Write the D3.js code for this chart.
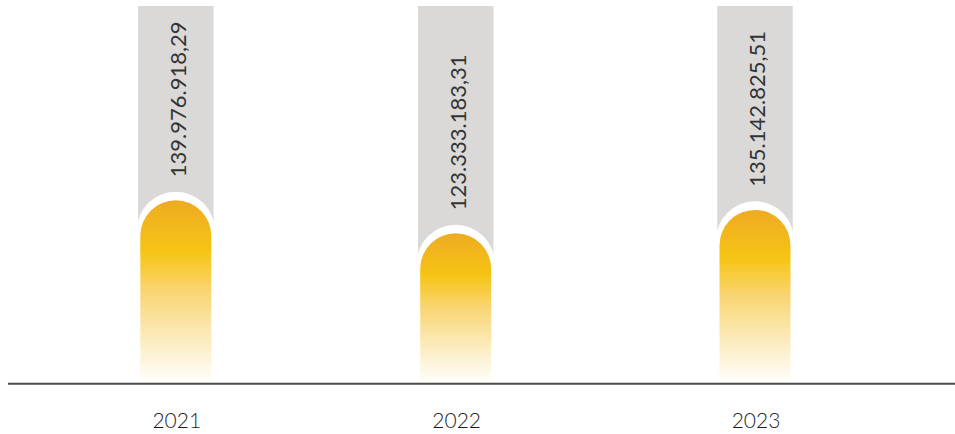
<!DOCTYPE html>
<html>
<head>
<meta charset="utf-8">
<script src="https://cdn.jsdelivr.net/npm/d3@7"></script>
<style>
  html, body { margin: 0; padding: 0; background: #fff; }
  svg { display: block; }
</style>
</head>
<body>
<div id="chart"></div>
<script>
// data
const years = ["2021", "2022", "2023"];
const values = [139976918.29, 123333183.31, 135142825.51];
const valueLabels = ["139.976.918,29", "123.333.183,31", "135.142.825,51"];

const width = 955, height = 434;
const baseY = 382;

const svg = d3.select("#chart")
  .append("svg")
    .attr("width", width)
    .attr("height", height);

// bars are not evenly spaced in the original
const x = d3.scaleOrdinal()
  .domain(years)
  .range([175.8, 455.7, 755]);

// value axis does not start at zero
const y = d3.scaleLinear()
  .domain([48334000, 139976918.29])
  .range([baseY, 200.3]);

const data = years.map((yr, i) => ({ year: yr, value: values[i], label: valueLabels[i] }));

// gradient for the yellow bars
const defs = svg.append("defs");
const grad = defs.append("linearGradient")
  .attr("id", "barGrad")
  .attr("x1", 0).attr("y1", 0)
  .attr("x2", 0).attr("y2", 1);
[
  [0, "#eeab23"],
  [0.28, "#f6c414"],
  [0.5, "#f9d572"],
  [0.72, "#fbe8b2"],
  [0.9, "#fdf6e2"],
  [1, "#fffefa"]
].forEach(s => grad.append("stop").attr("offset", s[0]).attr("stop-color", s[1]));

// path of a column with a rounded top
function capPath(cx, top, bottom, r) {
  return `M${cx - r},${bottom} L${cx - r},${top + r} A${r},${r} 0 0 1 ${cx + r},${top + r} L${cx + r},${bottom} Z`;
}

const greyW = 75.5, whiteR = 39, barR = 35.5, gap = 8.6;

const g = svg.selectAll(".bar")
  .data(data)
  .join("g")
    .attr("class", "bar");

// grey background column
g.append("rect")
  .attr("x", d => x(d.year) - greyW / 2)
  .attr("y", 6)
  .attr("width", greyW)
  .attr("height", baseY - 6)
  .attr("fill", "#dad9d8");

// white halo round the cap
g.append("path")
  .attr("d", d => capPath(x(d.year), y(d.value) - gap, baseY + 1, whiteR))
  .attr("fill", "#fff");

// yellow bar
g.append("path")
  .attr("d", d => capPath(x(d.year), y(d.value), baseY, barR))
  .attr("fill", "url(#barGrad)");

// rotated value labels
g.append("text")
  .attr("transform", d => `translate(${x(d.year) + 1.5},${y(d.value) - 101}) rotate(-90)`)
  .attr("text-anchor", "middle")
  .attr("dominant-baseline", "central")
  .style("font-family", "Lato, sans-serif")
  .style("font-weight", 400)
  .style("font-size", "22px")
  .style("fill", "#333")
  .text(d => d.label);

// baseline
svg.append("line")
  .attr("x1", 8)
  .attr("x2", width)
  .attr("y1", 383.7)
  .attr("y2", 383.7)
  .style("stroke", "#4b4b4b")
  .style("stroke-width", 2);

// year labels
svg.selectAll(".year")
  .data(years)
  .join("text")
    .attr("class", "year")
    .attr("x", d => x(d) + 1)
    .attr("y", 428.3)
    .attr("text-anchor", "middle")
    .style("font-family", "Lato, sans-serif")
    .style("font-weight", 300)
    .style("font-size", "21px")
    .style("fill", "#1e1e1e")
    .text(d => d);
</script>
</body>
</html>
